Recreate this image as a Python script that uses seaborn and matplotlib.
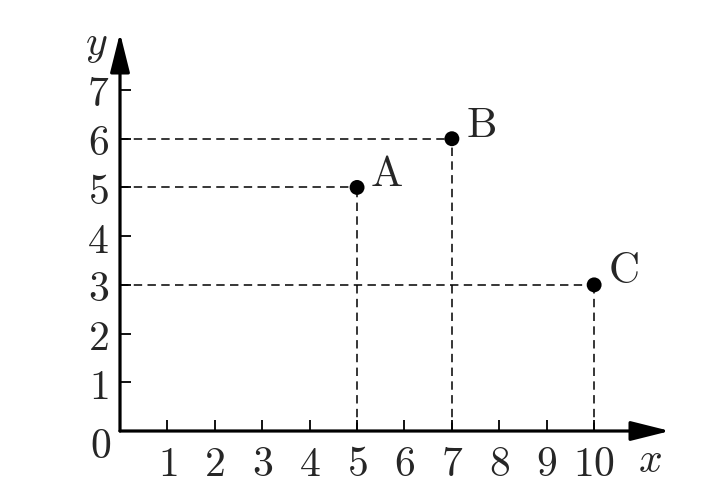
import matplotlib
matplotlib.use("Agg")
import matplotlib.pyplot as plt
import seaborn as sns
import pandas as pd

# data
point_names = ["A", "B", "C"]
point_x = [5, 7, 10]
point_y = [5, 6, 3]
x_ticks = [1, 2, 3, 4, 5, 6, 7, 8, 9, 10]
y_ticks = [1, 2, 3, 4, 5, 6, 7]

sns.set_style("ticks")
plt.rcParams["mathtext.fontset"] = "cm"
plt.rcParams["font.family"] = ["DejaVu Serif"]

df = pd.DataFrame({"name": point_names, "x": point_x, "y": point_y})

fig = plt.figure(figsize=(7.25, 4.96), dpi=100)
ax = fig.add_axes([120 / 725, 65 / 496, 550 / 725, 398 / 496])
ax.set_xlim(0, 11.6)
ax.set_ylim(0, 8.17)
for s in ax.spines.values():
    s.set_visible(False)

# axes with arrow heads
arrow = dict(arrowstyle="-|>,head_length=1.2,head_width=0.3", lw=2.3, color="black",
             shrinkA=0, shrinkB=0, mutation_scale=20)
ax.annotate("", xy=(1.0, 0), xytext=(0, 0), xycoords="axes fraction",
            arrowprops=arrow, annotation_clip=False)
ax.annotate("", xy=(0, 1.0), xytext=(0, 0), xycoords="axes fraction",
            arrowprops=arrow, annotation_clip=False)

# dashed guide lines
dash = (0, (5.5, 3.5))
for _, r in df.iterrows():
    ax.plot([0, r.x], [r.y, r.y], color="black", lw=1.1, linestyle=dash)
    ax.plot([r.x, r.x], [0, r.y], color="black", lw=1.1, linestyle=dash)

sns.scatterplot(data=df, x="x", y="y", ax=ax, s=115, color="black", edgecolor="none", zorder=5)
for _, r in df.iterrows():
    ax.annotate(f"$\\mathrm{{{r['name']}}}$", (r.x, r.y), xytext=(21, 10),
                textcoords="offset points", ha="center", va="center", fontsize=31)

ax.set_xticks(x_ticks, labels=[f"${t}$" for t in x_ticks])
ax.set_yticks(y_ticks, labels=[f"${t}$" for t in y_ticks])
ax.tick_params(axis="both", direction="in", length=8, width=1.3, labelsize=30,
               color="black", bottom=True, left=True, top=False, right=False)
ax.tick_params(axis="x", pad=9)
ax.tick_params(axis="y", pad=8)
ax.set_xlabel("")
ax.set_ylabel("")

ax.text(-0.42, -0.3, "$0$", ha="center", va="center", fontsize=30)
ax.text(11.18, -0.6, "$x$", ha="center", va="center", fontsize=30)
ax.text(-0.5, 7.95, "$y$", ha="center", va="center", fontsize=30)

fig.savefig("out.png", dpi=100)
